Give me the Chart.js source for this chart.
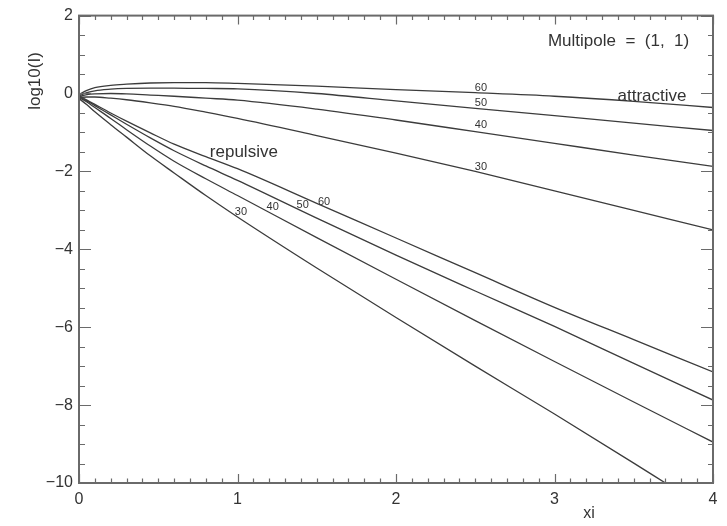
<!DOCTYPE html>
<html><head><meta charset="utf-8">
<script src="https://cdn.jsdelivr.net/npm/chart.js@4/dist/chart.umd.min.js"></script>
<style>html,body{margin:0;padding:0;background:#fff;}#wrap{width:727px;height:526px;}</style>
</head><body><div id="wrap"><canvas id="c" width="727" height="526"></canvas></div>
<script>
// ---- data ----
const xs = [0, 0.05, 0.1, 0.2, 0.3, 0.45, 0.6, 0.8, 1, 1.5, 2, 2.5, 3, 3.5, 4];
const xsRep30 = [0, 0.05, 0.1, 0.2, 0.3, 0.45, 0.6, 0.8, 1, 1.5, 2, 2.5, 3, 3.5, 3.7];
const attractive60 = [-0.03, 0.08, 0.15, 0.21, 0.24, 0.27, 0.28, 0.28, 0.26, 0.19, 0.10, 0.02, -0.07, -0.20, -0.36];
const attractive50 = [-0.06, 0.02, 0.07, 0.11, 0.13, 0.14, 0.14, 0.13, 0.12, 0.00, -0.19, -0.38, -0.57, -0.76, -0.95];
const attractive40 = [-0.08, -0.03, -0.01, 0.00, -0.01, -0.04, -0.07, -0.12, -0.17, -0.40, -0.68, -0.98, -1.28, -1.58, -1.87];
const attractive30 = [-0.10, -0.09, -0.09, -0.12, -0.16, -0.24, -0.33, -0.48, -0.64, -1.08, -1.53, -2.00, -2.50, -3.00, -3.50];
const repulsive60 = [-0.06, -0.17, -0.28, -0.50, -0.71, -1.01, -1.30, -1.62, -1.93, -2.82, -3.71, -4.60, -5.49, -6.32, -7.15];
const repulsive50 = [-0.08, -0.19, -0.31, -0.55, -0.79, -1.14, -1.47, -1.86, -2.23, -3.20, -4.15, -5.07, -5.98, -6.93, -7.87];
const repulsive40 = [-0.10, -0.22, -0.36, -0.64, -0.93, -1.35, -1.74, -2.19, -2.62, -3.70, -4.77, -5.83, -6.88, -7.92, -8.95];
const repulsive30 = [-0.13, -0.29, -0.47, -0.80, -1.12, -1.60, -2.04, -2.62, -3.17, -4.48, -5.75, -7.00, -8.23, -9.49, -10.0];
const xTickLabels = ['0', '1', '2', '3', '4'];
const yTickLabels = ['−10', '−8', '−6', '−4', '−2', '0', '2'];
const curveLabels = [
  {text: '60', x: 2.536, y: 0.145}, {text: '50', x: 2.536, y: -0.255},
  {text: '40', x: 2.536, y: -0.816}, {text: '30', x: 2.536, y: -1.88},
  {text: '30', x: 1.022, y: -3.04}, {text: '40', x: 1.222, y: -2.92},
  {text: '50', x: 1.411, y: -2.86}, {text: '60', x: 1.546, y: -2.79}
];
const textNotes = [
  {text: 'attractive', x: 3.615, y: -0.06},
  {text: 'repulsive', x: 1.04, y: -1.5},
  {text: 'Multipole  =  (1,  1)', x: 3.404, y: 1.337}
];

function pts(xa, ya) { return ya.map((v, i) => ({x: xa[i], y: v})); }
const series = [
  [xs, attractive60], [xs, attractive50], [xs, attractive40], [xs, attractive30],
  [xs, repulsive60], [xs, repulsive50], [xs, repulsive40], [xsRep30, repulsive30]
];
const LINE = '#3c3c3c';
const datasets = series.map(s => ({
  data: pts(s[0], s[1]), borderColor: LINE, borderWidth: 1.3, pointRadius: 0,
  fill: false, cubicInterpolationMode: 'monotone'
}));

const FONT = "'Liberation Sans', Arial, sans-serif";
const decor = {
  id: 'decor',
  afterDraw(chart) {
    const ctx = chart.ctx, xS = chart.scales.x, yS = chart.scales.y, a = chart.chartArea;
    ctx.save();
    // inward ticks
    ctx.strokeStyle = '#6a6a6a'; ctx.lineWidth = 1.2;
    ctx.beginPath();
    for (let i = 0; i <= 40; i++) {
      const px = Math.round(xS.getPixelForValue(i / 10)) + 0.5;
      const L = (i % 10 === 0) ? 9 : 4.5;
      ctx.moveTo(px, a.bottom); ctx.lineTo(px, a.bottom - L);
      ctx.moveTo(px, a.top); ctx.lineTo(px, a.top + L);
    }
    for (let i = -20; i <= 4; i++) {
      const py = Math.round(yS.getPixelForValue(i / 2)) + 0.5;
      const major = (i % 4 === 0);
      ctx.moveTo(a.left, py); ctx.lineTo(a.left + (major ? 12 : 6), py);
      ctx.moveTo(a.right, py); ctx.lineTo(a.right - (major ? 12 : 5), py);
    }
    ctx.stroke();
    // frame
    ctx.strokeStyle = '#6a6a6a'; ctx.lineWidth = 2;
    ctx.strokeRect(a.left, a.top, a.right - a.left, a.bottom - a.top);
    // curve labels
    ctx.fillStyle = '#333'; ctx.textAlign = 'center'; ctx.textBaseline = 'middle';
    ctx.font = '11px ' + FONT;
    curveLabels.forEach(l => ctx.fillText(l.text, xS.getPixelForValue(l.x), yS.getPixelForValue(l.y)));
    ctx.font = '17px ' + FONT;
    textNotes.forEach(l => ctx.fillText(l.text, xS.getPixelForValue(l.x), yS.getPixelForValue(l.y)));
    // axis titles
    ctx.font = '16px ' + FONT;
    ctx.fillText('xi', 589, 514);
    ctx.translate(35, 81); ctx.rotate(-Math.PI / 2);
    ctx.font = '17px ' + FONT;
    ctx.fillText('log10(I)', 0, 0);
    ctx.restore();
  }
};

new Chart(document.getElementById('c'), {
  type: 'line',
  data: {datasets},
  options: {
    responsive: false, animation: false, devicePixelRatio: 1,
    layout: {padding: {left: 0, right: 14, top: 13, bottom: 0}},
    plugins: {legend: {display: false}, tooltip: {enabled: false}},
    scales: {
      x: {
        type: 'linear', min: 0, max: 4,
        afterFit(s) { s.height = 43; },
        grid: {display: false, drawTicks: false},
        border: {display: false},
        ticks: {stepSize: 1, padding: 7, color: '#333', font: {family: FONT, size: 16},
          callback: (v) => xTickLabels[Math.round(v)] }
      },
      y: {
        type: 'linear', min: -10, max: 2,
        afterFit(s) { s.width = 79; },
        grid: {display: false, drawTicks: false},
        border: {display: false},
        ticks: {stepSize: 2, padding: 6, color: '#333', font: {family: FONT, size: 16},
          callback: (v) => yTickLabels[Math.round((v + 10) / 2)] }
      }
    }
  },
  plugins: [decor]
});
</script></body></html>
